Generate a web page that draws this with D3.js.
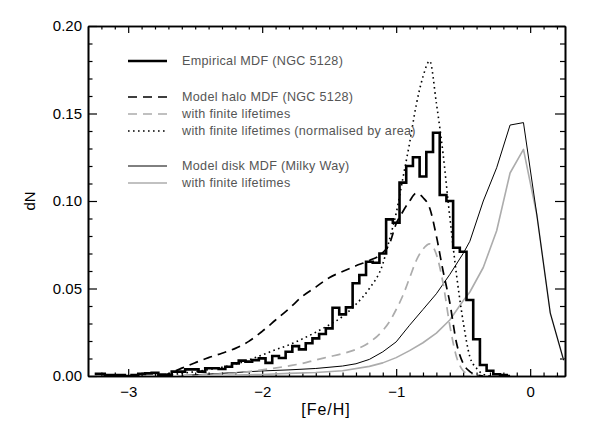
<!DOCTYPE html>
<html><head><meta charset="utf-8">
<script src="https://cdn.jsdelivr.net/npm/d3@7"></script>
<style>body{margin:0;background:#fff}svg{display:block}</style>
</head><body><svg id="c" width="591" height="432"></svg>
<script>
// ---- data ----
const histFeH = [-3.25,-3.20,-3.15,-3.10,-3.05,-3.00,-2.95,-2.90,-2.85,-2.80,-2.75,-2.70,-2.65,-2.60,-2.55,-2.50,-2.45,-2.40,-2.35,-2.30,-2.25,-2.20,-2.15,-2.10,-2.05,-2.00,-1.95,-1.90,-1.85,-1.80,-1.75,-1.70,-1.65,-1.60,-1.55,-1.50,-1.45,-1.40,-1.35,-1.30,-1.25,-1.20,-1.15,-1.10,-1.05,-1.00,-0.95,-0.90,-0.85,-0.80,-0.75,-0.70,-0.65,-0.60,-0.55,-0.50,-0.45,-0.40,-0.35,-0.30,-0.25,-0.20,-0.15];
const histDN = [0.0012,0.0012,0.0005,0.0005,0.0005,0.0,0.0005,0.0012,0.0015,0.0018,0.0008,0.0005,0.0025,0.0025,0.0038,0.0038,0.0025,0.0044,0.0044,0.0040,0.0053,0.0072,0.0088,0.0082,0.0091,0.0101,0.0075,0.0114,0.0103,0.0139,0.0171,0.0152,0.0187,0.0215,0.0240,0.0272,0.0390,0.0352,0.0392,0.0530,0.0577,0.0653,0.0647,0.0700,0.0895,0.0876,0.1105,0.1200,0.1250,0.1140,0.1280,0.1390,0.1034,0.1000,0.0733,0.0710,0.0434,0.0210,0.0063,0.0030,0.0010,0.0005,0.0];

const haloFeH = [-2.75,-2.70,-2.60,-2.50,-2.40,-2.30,-2.20,-2.10,-2.00,-1.90,-1.80,-1.70,-1.60,-1.50,-1.40,-1.30,-1.20,-1.10,-1.05,-1.00,-0.95,-0.90,-0.85,-0.80,-0.75,-0.70,-0.65,-0.60,-0.55,-0.50,-0.45,-0.40,-0.35];
const haloDN = [0,0.0012,0.0045,0.0076,0.0105,0.013,0.0158,0.0198,0.0255,0.032,0.0385,0.0455,0.0508,0.0562,0.0597,0.063,0.066,0.0705,0.0755,0.087,0.094,0.100,0.1044,0.102,0.096,0.080,0.060,0.042,0.019,0.0072,0.0025,0.0006,0];

const haloFiniteFeH = [-2.70,-2.40,-2.20,-2.00,-1.80,-1.70,-1.60,-1.50,-1.40,-1.30,-1.20,-1.10,-1.05,-1.00,-0.95,-0.90,-0.85,-0.80,-0.75,-0.70,-0.65,-0.60,-0.55,-0.50,-0.45,-0.40];
const haloFiniteDN = [0,0.0008,0.0017,0.0035,0.0058,0.0072,0.0092,0.011,0.0128,0.0152,0.0192,0.026,0.031,0.038,0.046,0.056,0.066,0.0725,0.0755,0.0695,0.053,0.029,0.011,0.003,0.0007,0];

const haloNormFeH = [-2.75,-2.60,-2.50,-2.40,-2.30,-2.20,-2.10,-2.00,-1.90,-1.80,-1.70,-1.60,-1.50,-1.40,-1.30,-1.20,-1.10,-1.05,-1.00,-0.95,-0.90,-0.85,-0.80,-0.75,-0.70,-0.65,-0.60,-0.55,-0.50,-0.45,-0.40,-0.35,-0.30];
const haloNormDN = [0,0.0015,0.0025,0.0037,0.005,0.0068,0.0092,0.012,0.015,0.0178,0.0212,0.025,0.0292,0.034,0.041,0.050,0.064,0.078,0.093,0.113,0.133,0.155,0.171,0.180,0.156,0.127,0.091,0.058,0.031,0.011,0.0044,0.001,0];

const diskFeH = [-2.60,-2.40,-2.20,-2.00,-1.80,-1.60,-1.40,-1.30,-1.20,-1.10,-1.00,-0.90,-0.80,-0.70,-0.60,-0.50,-0.45,-0.35,-0.25,-0.15,-0.05,0.05,0.15,0.25];
const diskDN = [0.0003,0.0011,0.002,0.0029,0.0035,0.0043,0.0057,0.007,0.0095,0.0138,0.0195,0.029,0.038,0.047,0.058,0.070,0.077,0.100,0.119,0.1434,0.1448,0.092,0.036,0.009];

const diskFiniteFeH = [-2.60,-2.20,-2.00,-1.80,-1.60,-1.40,-1.20,-1.10,-1.00,-0.90,-0.80,-0.70,-0.60,-0.50,-0.45,-0.35,-0.25,-0.15,-0.05,0.05,0.15,0.25];
const diskFiniteDN = [0,0.0005,0.0009,0.0015,0.002,0.003,0.0055,0.0075,0.0105,0.0145,0.019,0.0245,0.032,0.043,0.048,0.062,0.083,0.116,0.1295,0.092,0.036,0.009];

const xMajorTicks = [-3,-2,-1,0];
const xTickLabels = ["\u22123","\u22122","\u22121","0"];
const yMajorTicks = [0,0.05,0.10,0.15,0.20];
const yTickLabels = ["0.00","0.05","0.10","0.15","0.20"];
const legendLabels = ["Empirical MDF (NGC 5128)","Model halo MDF (NGC 5128)","with finite lifetimes","with finite lifetimes (normalised by area)","Model disk MDF (Milky Way)","with finite lifetimes"];

// ---- layout ----
const L = 88, R = 565, T = 26, B = 376;
const x = d3.scaleLinear().domain([-3.3, 0.26]).range([L, R]);
const y = d3.scaleLinear().domain([0, 0.20]).range([B, T]);
const svg = d3.select("#c");
const FONT = "'Liberation Sans', Arial, sans-serif";

svg.append("defs").append("clipPath").attr("id","clip")
  .append("rect").attr("x",L).attr("y",T).attr("width",R-L).attr("height",B-T);

const xMinor = d3.range(-3.2, 0.26, 0.1).map(v => Math.round(v*10)/10).filter(v => !xMajorTicks.includes(v));
const yMinor = d3.range(0.01, 0.2, 0.01).map(v => Math.round(v*100)/100).filter(v => !yMajorTicks.some(t => Math.abs(t-v)<1e-9));

function styleAxis(g){
  g.selectAll("path.domain").attr("stroke","#000").attr("stroke-width",1.6);
  g.selectAll(".tick line").attr("stroke","#000").attr("stroke-width",1.2);
  g.selectAll("text").attr("font-family",FONT).attr("font-size",15).attr("fill","#000");
}
// bottom
svg.append("g").attr("transform",`translate(0,${B})`)
  .call(d3.axisBottom(x).tickValues(xMinor).tickFormat("").tickSize(-3.5).tickSizeOuter(0)).call(styleAxis);
svg.append("g").attr("transform",`translate(0,${B})`)
  .call(d3.axisBottom(x).tickValues(xMajorTicks).tickFormat((d,i)=>xTickLabels[i]).tickSize(-7).tickSizeOuter(0).tickPadding(10)).call(styleAxis);
// top
svg.append("g").attr("transform",`translate(0,${T})`)
  .call(d3.axisTop(x).tickValues(xMinor).tickFormat("").tickSize(-3.5).tickSizeOuter(0)).call(styleAxis);
svg.append("g").attr("transform",`translate(0,${T})`)
  .call(d3.axisTop(x).tickValues(xMajorTicks).tickFormat("").tickSize(-7).tickSizeOuter(0)).call(styleAxis);
// left
svg.append("g").attr("transform",`translate(${L},0)`)
  .call(d3.axisLeft(y).tickValues(yMinor).tickFormat("").tickSize(-4.5).tickSizeOuter(0)).call(styleAxis);
svg.append("g").attr("transform",`translate(${L},0)`)
  .call(d3.axisLeft(y).tickValues(yMajorTicks).tickFormat((d,i)=>yTickLabels[i]).tickSize(-9).tickSizeOuter(0).tickPadding(6)).call(styleAxis);
// right
svg.append("g").attr("transform",`translate(${R},0)`)
  .call(d3.axisRight(y).tickValues(yMinor).tickFormat("").tickSize(-5).tickSizeOuter(0)).call(styleAxis);
svg.append("g").attr("transform",`translate(${R},0)`)
  .call(d3.axisRight(y).tickValues(yMajorTicks).tickFormat("").tickSize(-10).tickSizeOuter(0)).call(styleAxis);

// axis titles
svg.append("text").attr("x",326).attr("y",415).attr("text-anchor","middle")
  .attr("font-family",FONT).attr("font-size",16).attr("letter-spacing",1).text("[Fe/H]");
svg.append("text").attr("transform","translate(35,201) rotate(-90)").attr("text-anchor","middle")
  .attr("font-family",FONT).attr("font-size",15).text("dN");

// ---- series ----
const plot = svg.append("g").attr("clip-path","url(#clip)");
const mkLine = (xs, ys, curve) => d3.line().x((d,i)=>x(xs[i])).y((d,i)=>y(ys[i])).curve(curve)(xs);

const series = [
  {xs: diskFiniteFeH, ys: diskFiniteDN, stroke:"#acacac", w:1.6, dash:null, curve:d3.curveLinear},
  {xs: diskFeH, ys: diskDN, stroke:"#000", w:1, dash:null, curve:d3.curveLinear},
  {xs: haloFiniteFeH, ys: haloFiniteDN, stroke:"#acacac", w:1.7, dash:"9,6", curve:d3.curveMonotoneX},
  {xs: haloFeH, ys: haloDN, stroke:"#000", w:1.7, dash:"9,6", curve:d3.curveMonotoneX},
  {xs: haloNormFeH, ys: haloNormDN, stroke:"#000", w:1.6, dash:"1.6,3.4", curve:d3.curveMonotoneX}
];
series.forEach(s => {
  plot.append("path").attr("d", mkLine(s.xs, s.ys, s.curve)).attr("fill","none")
    .attr("stroke",s.stroke).attr("stroke-width",s.w).attr("stroke-dasharray",s.dash)
    .attr("stroke-linejoin","round");
});
// histogram (stepped)
plot.append("path")
  .attr("d", mkLine(histFeH, histDN, d3.curveStep))
  .attr("fill","none").attr("stroke","#000").attr("stroke-width",2.6).attr("stroke-linejoin","miter");

// ---- legend ----
const legRows = [
  {y:61, stroke:"#000", w:2.6, dash:null},
  {y:97, stroke:"#000", w:1.7, dash:"9,6"},
  {y:114, stroke:"#acacac", w:1.7, dash:"9,6"},
  {y:131, stroke:"#000", w:1.6, dash:"1.6,3.4"},
  {y:166, stroke:"#000", w:1, dash:null},
  {y:183, stroke:"#acacac", w:1.6, dash:null}
];
const leg = svg.append("g");
legRows.forEach((r,i) => {
  leg.append("line").attr("x1",128).attr("x2",167).attr("y1",r.y).attr("y2",r.y)
    .attr("stroke",r.stroke).attr("stroke-width",r.w).attr("stroke-dasharray",r.dash);
  leg.append("text").attr("x",182).attr("y",r.y+3.5).attr("font-family",FONT).attr("font-size",12.6)
    .attr("letter-spacing",0.3).attr("fill","#555").text(legendLabels[i]);
});
</script></body></html>
